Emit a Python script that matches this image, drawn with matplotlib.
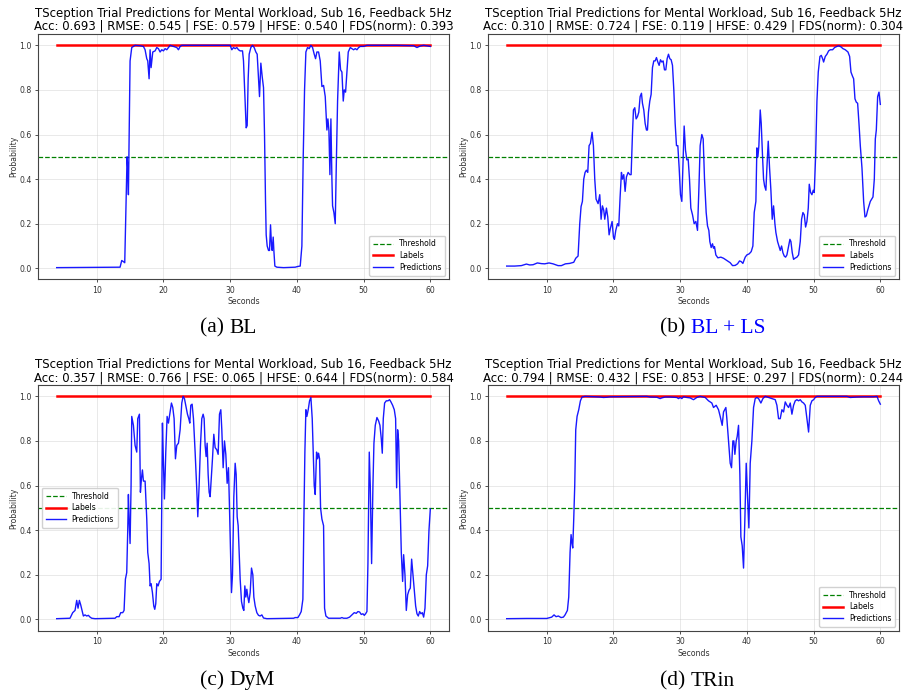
import matplotlib
matplotlib.use("Agg")
import matplotlib.pyplot as plt
import numpy as np

# ---------------- data ----------------
panel_titles = [
    "TSception Trial Predictions for Mental Workload, Sub 16, Feedback 5Hz\nAcc: 0.693 | RMSE: 0.545 | FSE: 0.579 | HFSE: 0.540 | FDS(norm): 0.393",
    "TSception Trial Predictions for Mental Workload, Sub 16, Feedback 5Hz\nAcc: 0.310 | RMSE: 0.724 | FSE: 0.119 | HFSE: 0.429 | FDS(norm): 0.304",
    "TSception Trial Predictions for Mental Workload, Sub 16, Feedback 5Hz\nAcc: 0.357 | RMSE: 0.766 | FSE: 0.065 | HFSE: 0.644 | FDS(norm): 0.584",
    "TSception Trial Predictions for Mental Workload, Sub 16, Feedback 5Hz\nAcc: 0.794 | RMSE: 0.432 | FSE: 0.853 | HFSE: 0.297 | FDS(norm): 0.244",
]
captions = ["(a) ", "(b) ", "(c) ", "(d) "]
caption_names = ["BL", "BL + LS", "DyM", "TRin"]
caption_colors = ["black", "blue", "black", "black"]

label_span = [4, 60]
label_value = [1.0, 1.0]
threshold = 0.5
xticks = [10, 20, 30, 40, 50, 60]
yticks = [0.0, 0.2, 0.4, 0.6, 0.8, 1.0]

pred_bl = [(4, 0.003), (13.5, 0.005), (13.75, 0.035), (14.0, 0.03), (14.2, 0.025), (14.4, 0.3), (14.55, 0.5),
           (14.65, 0.45), (14.75, 0.33), (15.0, 0.93), (15.25, 0.99), (15.75, 1.0), (16.5, 0.998), (17.0, 0.995),
           (17.25, 0.98), (17.5, 0.94), (17.65, 0.93), (17.85, 0.85), (18.0, 0.98), (18.15, 0.9), (18.4, 0.97),
           (18.75, 0.975), (19.0, 0.99), (19.25, 0.985), (19.5, 0.97), (19.75, 0.98), (20.0, 0.975), (20.25, 0.985),
           (20.5, 0.98), (20.75, 0.99), (21.0, 1.0), (21.5, 0.995), (22.0, 0.99), (22.25, 0.98), (22.5, 0.995),
           (22.75, 1.0), (23.5, 1.0), (25, 1.0), (27, 1.0), (29.5, 1.0), (30.0, 1.0), (30.25, 0.98), (30.5, 0.99),
           (30.75, 0.985), (31.0, 0.99), (31.25, 0.98), (31.5, 0.975), (31.85, 0.975), (32.0, 0.93), (32.25, 0.75),
           (32.4, 0.63), (32.55, 0.64), (32.7, 0.85), (32.85, 0.96), (33.1, 0.99), (33.35, 1.0), (33.6, 0.99),
           (33.85, 0.97), (34.05, 0.96), (34.25, 0.85), (34.4, 0.77), (34.6, 0.92), (34.8, 0.86), (35.0, 0.81),
           (35.15, 0.6), (35.3, 0.3), (35.4, 0.15), (35.55, 0.1), (35.75, 0.08), (35.9, 0.08), (36.05, 0.195),
           (36.2, 0.1), (36.3, 0.08), (36.45, 0.14), (36.55, 0.08), (36.7, 0.01), (37.0, 0.005), (38.0, 0.003),
           (39.75, 0.005), (40.1, 0.008), (40.5, 0.01), (40.75, 0.1), (40.95, 0.5), (41.15, 0.8), (41.35, 0.97),
           (41.6, 0.99), (41.85, 0.985), (42.1, 1.0), (42.35, 0.99), (42.6, 0.96), (42.8, 0.94), (43.0, 0.97),
           (43.25, 0.97), (43.5, 0.93), (43.75, 0.815), (44.0, 0.82), (44.25, 0.77), (44.5, 0.62), (44.65, 0.67),
           (44.8, 0.62), (44.95, 0.42), (45.1, 0.67), (45.25, 0.4), (45.35, 0.28), (45.55, 0.25), (45.75, 0.2),
           (45.9, 0.45), (46.1, 0.75), (46.35, 0.97), (46.55, 0.89), (46.75, 0.88), (46.95, 0.75), (47.1, 0.8),
           (47.3, 0.79), (47.5, 0.88), (47.7, 0.97), (48.0, 0.99), (48.25, 0.985), (48.5, 0.98), (48.75, 0.985),
           (49.0, 0.98), (49.25, 0.99), (49.5, 0.995), (50.0, 0.995), (50.5, 1.0), (52, 1.0), (55, 1.0),
           (57.5, 0.998), (58.0, 0.99), (58.5, 0.997), (59.0, 1.0), (60.0, 0.995)]

pred_bl_ls = [(4.0, 0.01), (5.2, 0.01), (6.2, 0.012), (6.95, 0.019), (7.45, 0.015), (7.95, 0.016), (8.6, 0.024),
              (9.2, 0.021), (9.7, 0.02), (10.35, 0.024), (10.95, 0.02), (11.7, 0.012), (12.2, 0.012), (12.8, 0.02),
              (13.45, 0.022), (14.05, 0.027), (14.35, 0.045), (14.7, 0.055), (14.95, 0.2), (15.15, 0.277),
              (15.35, 0.3), (15.55, 0.4), (15.75, 0.43), (15.95, 0.44), (16.15, 0.43), (16.35, 0.55), (16.55, 0.56),
              (16.8, 0.61), (17.0, 0.55), (17.2, 0.4), (17.4, 0.31), (17.7, 0.29), (17.95, 0.33), (18.15, 0.22),
              (18.35, 0.28), (18.55, 0.26), (18.7, 0.22), (18.95, 0.27), (19.15, 0.23), (19.35, 0.15), (19.55, 0.18),
              (19.8, 0.21), (20.0, 0.14), (20.15, 0.13), (20.35, 0.17), (20.6, 0.2), (20.8, 0.19), (21.0, 0.32),
              (21.2, 0.43), (21.35, 0.4), (21.55, 0.42), (21.75, 0.345), (21.95, 0.41), (22.2, 0.43), (22.45, 0.42),
              (22.65, 0.42), (22.85, 0.6), (23.0, 0.71), (23.2, 0.72), (23.4, 0.67), (23.6, 0.68), (23.8, 0.7),
              (24.0, 0.77), (24.2, 0.785), (24.35, 0.74), (24.55, 0.71), (24.75, 0.65), (24.95, 0.62), (25.1, 0.62),
              (25.25, 0.7), (25.45, 0.75), (25.65, 0.78), (25.85, 0.9), (26.05, 0.93), (26.25, 0.93), (26.45, 0.945),
              (26.65, 0.925), (26.85, 0.91), (27.05, 0.935), (27.25, 0.925), (27.45, 0.93), (27.65, 0.89),
              (27.85, 0.89), (28.05, 0.94), (28.25, 0.96), (28.45, 0.94), (28.65, 0.935), (28.85, 0.91), (29.05, 0.8),
              (29.25, 0.65), (29.45, 0.55), (29.65, 0.55), (29.85, 0.45), (30.05, 0.33), (30.25, 0.3), (30.45, 0.5),
              (30.6, 0.638), (30.8, 0.53), (31.0, 0.486), (31.2, 0.49), (31.4, 0.4), (31.6, 0.27), (31.85, 0.24),
              (32.1, 0.2), (32.35, 0.21), (32.6, 0.17), (32.8, 0.35), (33.0, 0.55), (33.25, 0.6), (33.45, 0.58),
              (33.65, 0.4), (33.9, 0.25), (34.1, 0.19), (34.3, 0.17), (34.45, 0.12), (34.65, 0.093), (34.85, 0.11),
              (35.0, 0.09), (35.15, 0.097), (35.35, 0.06), (35.65, 0.047), (36.1, 0.05), (36.5, 0.045), (37.0, 0.035),
              (37.5, 0.025), (37.85, 0.012), (38.25, 0.013), (38.6, 0.02), (38.9, 0.033), (39.15, 0.03), (39.4, 0.022),
              (39.75, 0.05), (40.0, 0.06), (40.35, 0.065), (40.65, 0.075), (40.9, 0.1), (41.1, 0.25), (41.35, 0.3),
              (41.5, 0.54), (41.65, 0.5), (41.8, 0.55), (42.0, 0.71), (42.15, 0.65), (42.35, 0.5), (42.5, 0.4),
              (42.65, 0.37), (42.85, 0.35), (43.0, 0.45), (43.2, 0.57), (43.4, 0.45), (43.6, 0.35), (43.8, 0.22),
              (44.0, 0.28), (44.2, 0.2), (44.35, 0.16), (44.6, 0.12), (44.8, 0.1), (45.0, 0.08), (45.2, 0.1),
              (45.4, 0.07), (45.6, 0.055), (45.8, 0.05), (46.0, 0.06), (46.2, 0.09), (46.45, 0.13), (46.6, 0.12),
              (46.8, 0.07), (47.0, 0.04), (47.2, 0.045), (47.5, 0.05), (47.75, 0.06), (48.0, 0.12), (48.2, 0.22),
              (48.4, 0.25), (48.6, 0.24), (48.8, 0.185), (49.0, 0.21), (49.2, 0.27), (49.35, 0.377), (49.55, 0.34),
              (49.75, 0.33), (49.95, 0.35), (50.1, 0.34), (50.3, 0.5), (50.5, 0.75), (50.7, 0.88), (50.95, 0.95),
              (51.15, 0.955), (51.35, 0.94), (51.5, 0.925), (51.75, 0.95), (52.0, 0.96), (52.25, 0.975), (52.5, 0.98),
              (52.85, 0.98), (53.15, 0.99), (53.5, 0.995), (53.75, 0.998), (54.1, 0.993), (54.4, 0.985), (54.75, 0.98),
              (55.15, 0.97), (55.4, 0.95), (55.6, 0.88), (55.85, 0.86), (56.0, 0.85), (56.2, 0.76), (56.4, 0.745),
              (56.6, 0.74), (56.8, 0.65), (57.0, 0.55), (57.25, 0.45), (57.5, 0.3), (57.7, 0.23), (57.9, 0.235),
              (58.1, 0.26), (58.3, 0.28), (58.5, 0.3), (58.7, 0.31), (58.9, 0.32), (59.1, 0.4), (59.25, 0.58),
              (59.4, 0.62), (59.6, 0.77), (59.8, 0.79), (60.0, 0.735)]

pred_dym = [(4, 0.003), (6.0, 0.005), (6.4, 0.03), (6.75, 0.04), (7.0, 0.085), (7.2, 0.05), (7.4, 0.085), (7.6, 0.065),
            (7.8, 0.04), (8.0, 0.015), (8.25, 0.02), (8.5, 0.015), (8.75, 0.018), (9.0, 0.01), (9.25, 0.005),
            (9.75, 0.003), (12.75, 0.005), (13.0, 0.012), (13.35, 0.012), (13.6, 0.03), (13.9, 0.03), (14.1, 0.04),
            (14.3, 0.18), (14.5, 0.21), (14.65, 0.4), (14.75, 0.56), (14.85, 0.45), (15.0, 0.34), (15.15, 0.6),
            (15.25, 0.91), (15.5, 0.87), (15.75, 0.78), (16.0, 0.75), (16.15, 0.9), (16.4, 0.92), (16.55, 0.57),
            (16.7, 0.63), (16.85, 0.67), (17.0, 0.62), (17.25, 0.62), (17.5, 0.45), (17.65, 0.3), (17.85, 0.25),
            (18.0, 0.15), (18.15, 0.16), (18.35, 0.12), (18.55, 0.06), (18.7, 0.045), (18.85, 0.07), (19.0, 0.16),
            (19.2, 0.15), (19.4, 0.17), (19.65, 0.18), (19.85, 0.88), (20.0, 0.7), (20.15, 0.54), (20.35, 0.75),
            (20.55, 0.91), (20.75, 0.88), (21.0, 0.93), (21.2, 0.97), (21.4, 0.95), (21.6, 0.9), (21.8, 0.72),
            (22.0, 0.78), (22.25, 0.79), (22.5, 0.85), (22.75, 0.97), (22.95, 1.0), (23.15, 0.99), (23.35, 0.96),
            (23.6, 0.92), (23.8, 0.9), (23.95, 0.88), (24.1, 0.96), (24.3, 0.965), (24.5, 0.9), (24.75, 0.75),
            (25.0, 0.58), (25.15, 0.46), (25.35, 0.6), (25.55, 0.78), (25.75, 0.9), (25.95, 0.92), (26.1, 0.9),
            (26.25, 0.78), (26.4, 0.73), (26.55, 0.79), (26.7, 0.65), (26.85, 0.57), (27.0, 0.55), (27.15, 0.62),
            (27.35, 0.72), (27.55, 0.83), (27.75, 0.77), (28.0, 0.76), (28.2, 0.74), (28.4, 0.92), (28.6, 0.94),
            (28.75, 0.85), (28.95, 0.68), (29.15, 0.8), (29.35, 0.74), (29.55, 0.61), (29.75, 0.68), (29.9, 0.5),
            (30.05, 0.3), (30.2, 0.12), (30.35, 0.2), (30.55, 0.55), (30.75, 0.7), (30.9, 0.65), (31.05, 0.46),
            (31.2, 0.42), (31.35, 0.3), (31.5, 0.18), (31.7, 0.08), (31.9, 0.05), (32.05, 0.04), (32.2, 0.15),
            (32.35, 0.1), (32.5, 0.135), (32.65, 0.1), (32.8, 0.075), (33.0, 0.12), (33.2, 0.23), (33.4, 0.2),
            (33.55, 0.1), (33.75, 0.06), (34.0, 0.03), (34.25, 0.018), (34.5, 0.015), (34.75, 0.02), (35.0, 0.006),
            (35.5, 0.003), (39.5, 0.005), (39.75, 0.008), (40.15, 0.008), (40.4, 0.02), (40.65, 0.035), (40.9, 0.09),
            (41.05, 0.45), (41.2, 0.75), (41.35, 0.94), (41.5, 0.91), (41.7, 0.94), (41.9, 0.98), (42.1, 0.995),
            (42.3, 0.9), (42.45, 0.75), (42.6, 0.6), (42.75, 0.56), (42.95, 0.75), (43.1, 0.72), (43.25, 0.745),
            (43.4, 0.72), (43.55, 0.5), (43.75, 0.45), (44.0, 0.42), (44.15, 0.05), (44.35, 0.015), (44.75, 0.005),
            (46.5, 0.005), (46.75, 0.008), (47.0, 0.005), (47.5, 0.005), (47.9, 0.01), (48.25, 0.02), (48.6, 0.03),
            (48.9, 0.027), (49.15, 0.035), (49.4, 0.033), (49.65, 0.022), (49.9, 0.025), (50.1, 0.018), (50.3, 0.025),
            (50.5, 0.035), (50.65, 0.25), (50.85, 0.75), (51.0, 0.6), (51.2, 0.25), (51.4, 0.6), (51.55, 0.79),
            (51.75, 0.87), (52.0, 0.905), (52.25, 0.89), (52.45, 0.87), (52.65, 0.81), (52.8, 0.745), (52.95, 0.9),
            (53.15, 0.97), (53.4, 0.98), (53.65, 0.98), (53.9, 0.985), (54.1, 0.975), (54.35, 0.96), (54.6, 0.94),
            (54.8, 0.9), (54.95, 0.59), (55.1, 0.85), (55.25, 0.8), (55.45, 0.55), (55.65, 0.3), (55.85, 0.17),
            (56.0, 0.29), (56.2, 0.2), (56.4, 0.04), (56.6, 0.11), (56.8, 0.13), (57.0, 0.14), (57.2, 0.27),
            (57.4, 0.2), (57.6, 0.13), (57.8, 0.06), (58.0, 0.025), (58.2, 0.015), (58.4, 0.035), (58.6, 0.025),
            (58.8, 0.03), (59.0, 0.01), (59.2, 0.05), (59.4, 0.2), (59.6, 0.24), (59.8, 0.4), (60.0, 0.495)]

pred_trin = [(4, 0.003), (7, 0.004), (10, 0.004), (10.5, 0.008), (10.75, 0.01), (11.1, 0.02), (11.4, 0.012),
             (11.75, 0.015), (12.15, 0.008), (12.5, 0.01), (12.75, 0.02), (13.1, 0.04), (13.3, 0.1), (13.5, 0.3),
             (13.65, 0.38), (13.8, 0.34), (13.9, 0.32), (14.05, 0.45), (14.2, 0.6), (14.35, 0.85), (14.55, 0.91),
             (14.8, 0.94), (15.05, 0.98), (15.3, 0.997), (15.75, 1.0), (18.0, 0.997), (18.5, 0.995), (19.0, 0.996),
             (19.5, 0.998), (25.0, 1.0), (25.5, 0.997), (26.5, 0.996), (27.0, 0.99), (27.25, 0.993), (27.75, 0.997),
             (28.5, 0.997), (29.5, 0.995), (29.75, 0.99), (30.0, 0.995), (30.25, 0.99), (30.5, 0.998), (31.0, 0.995),
             (31.5, 0.993), (32.0, 0.985), (32.5, 0.995), (33.0, 1.0), (33.75, 0.995), (34.25, 0.98), (34.75, 0.97),
             (35.0, 0.95), (35.4, 0.96), (35.75, 0.94), (36.0, 0.91), (36.3, 0.87), (36.5, 0.93), (36.85, 0.95),
             (37.0, 0.9), (37.25, 0.8), (37.5, 0.7), (37.7, 0.68), (37.9, 0.8), (38.05, 0.8), (38.2, 0.74),
             (38.4, 0.8), (38.55, 0.82), (38.75, 0.87), (38.95, 0.65), (39.1, 0.37), (39.3, 0.33), (39.5, 0.23),
             (39.7, 0.45), (39.9, 0.7), (40.1, 0.55), (40.3, 0.41), (40.5, 0.7), (40.75, 0.8), (41.0, 0.95),
             (41.25, 0.99), (41.5, 0.995), (41.75, 0.99), (42.1, 0.97), (42.4, 0.99), (42.75, 1.0), (43.25, 0.995),
             (43.75, 0.99), (44.25, 0.985), (44.5, 0.96), (44.75, 0.9), (45.0, 0.9), (45.25, 0.94), (45.5, 0.93),
             (45.75, 0.975), (46.0, 0.96), (46.25, 0.95), (46.5, 0.97), (46.75, 0.92), (47.0, 0.96), (47.25, 0.98),
             (47.5, 0.985), (47.75, 0.98), (48.0, 0.985), (48.25, 0.975), (48.5, 0.97), (48.75, 0.96), (49.0, 0.9),
             (49.25, 0.84), (49.5, 0.96), (49.75, 0.98), (50.0, 0.985), (50.25, 0.995), (50.5, 1.0), (55.0, 1.0),
             (55.5, 0.995), (56.5, 0.997), (57.5, 0.998), (59.0, 0.998), (59.5, 1.0), (59.75, 0.98), (60.0, 0.965)]

predictions = [pred_bl, pred_bl_ls, pred_dym, pred_trin]
legend_locs = ["lower right", "lower right", "center left", "lower right"]

# ---------------- figure ----------------
W, H = 907, 694
fig = plt.figure(figsize=(W / 100, H / 100), dpi=100)
fig.patch.set_facecolor("white")

ax_w = 411 / W
ax_h = 245.3 / H
lefts = [38 / W, 488 / W]
bottoms = [1 - 279.45 / H, 1 - 630.5 / H]
cap_x = [229 / W, 691 / W]
cap_y = [1 - 328 / H, 1 - 681 / H]

for i in range(4):
    r, c = divmod(i, 2)
    ax = fig.add_axes([lefts[c], bottoms[r], ax_w, ax_h])
    pts = np.array(predictions[i])
    ax.axhline(threshold, color="green", linestyle="--", linewidth=0.9, label="Threshold")
    ax.plot(label_span, label_value, color="red", linewidth=1.8, label="Labels")
    ax.plot(pts[:, 0], pts[:, 1], color="blue", linewidth=1.0, alpha=0.9, label="Predictions")
    ax.set_xlim(1.2, 62.8)
    ax.set_ylim(-0.05, 1.05)
    ax.set_xticks(xticks)
    ax.set_yticks(yticks)
    ax.tick_params(labelsize=5.6, length=2.5, width=0.6, pad=2, colors="#333333")
    ax.grid(True, color="#cccccc", alpha=0.5, linewidth=0.6)
    for s in ax.spines.values():
        s.set_linewidth(0.8)
        s.set_color("#444444")
    ax.set_xlabel("Seconds", fontsize=5.6, labelpad=2, color="#333333")
    ax.set_ylabel("Probability", fontsize=5.6, labelpad=0.5, color="#333333")
    ax.set_title(panel_titles[i], fontsize=8.5, pad=3, linespacing=1.0)
    ax.legend(loc=legend_locs[i], fontsize=5.5, framealpha=0.9, borderpad=0.5,
              handlelength=2.6, labelspacing=0.35, edgecolor="#cccccc", fancybox=True)

    # captions
    cx, cy = cap_x[c], cap_y[r]
    fig.text(cx, cy, captions[i], family="Liberation Serif", fontsize=15.5,
             ha="right", va="center", color="black")
    fig.text(cx, cy, caption_names[i], family="Liberation Serif", fontsize=15.5,
             ha="left", va="center", color=caption_colors[i])

fig.savefig("out.png", dpi=100, facecolor="white")
